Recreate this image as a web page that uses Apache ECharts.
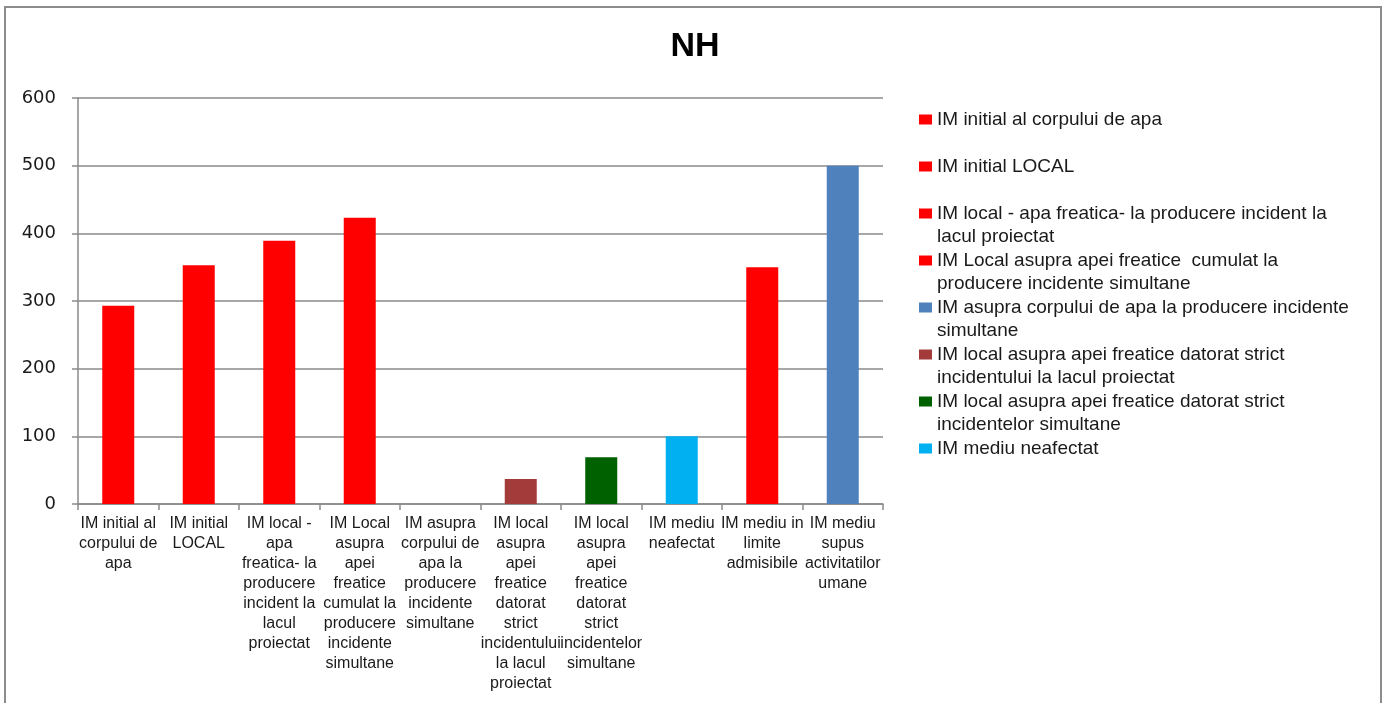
<!DOCTYPE html>
<html>
<head>
<meta charset="utf-8">
<script src="https://cdn.jsdelivr.net/npm/echarts@6/dist/echarts.min.js"></script>
<style>
html,body{margin:0;padding:0;background:#fff;}
#chart{width:1390px;height:703px;}
</style>
</head>
<body>
<div id="chart"></div>
<script>
const chartTitle = 'NH';
const categories = [
  'IM initial al corpului de apa',
  'IM initial LOCAL',
  'IM local - apa freatica- la producere incident la lacul proiectat',
  'IM Local asupra apei freatice  cumulat la producere incidente simultane',
  'IM asupra corpului de apa la producere incidente simultane',
  'IM local asupra apei freatice datorat strict incidentului la lacul proiectat',
  'IM local asupra apei freatice datorat strict incidentelor simultane',
  'IM mediu neafectat',
  'IM mediu in limite admisibile',
  'IM mediu supus activitatilor umane'
];
const xTickLabels = [
  'IM initial al\ncorpului de\napa',
  'IM initial\nLOCAL',
  'IM local -\napa\nfreatica- la\nproducere\nincident la\nlacul\nproiectat',
  'IM Local\nasupra\napei\nfreatice\ncumulat la\nproducere\nincidente\nsimultane',
  'IM asupra\ncorpului de\napa la\nproducere\nincidente\nsimultane',
  'IM local\nasupra\napei\nfreatice\ndatorat\nstrict\nincidentului\nla lacul\nproiectat',
  'IM local\nasupra\napei\nfreatice\ndatorat\nstrict\nincidentelor\nsimultane',
  'IM mediu\nneafectat',
  'IM mediu in\nlimite\nadmisibile',
  'IM mediu\nsupus\nactivitatilor\numane'
];
const values = [293, 353, 389, 423, 0, 37, 69, 100, 350, 500];
const barColors = ['#FF0000','#FF0000','#FF0000','#FF0000','#4F81BD','#A33B3A','#006100','#00B0F0','#FF0000','#4F81BD'];
const legendCount = 8;
const legendLines = [
  ['IM initial al corpului de apa'],
  ['IM initial LOCAL'],
  ['IM local - apa freatica- la producere incident la', 'lacul proiectat'],
  ['IM Local asupra apei freatice  cumulat la', 'producere incidente simultane'],
  ['IM asupra corpului de apa la producere incidente', 'simultane'],
  ['IM local asupra apei freatice datorat strict', 'incidentului la lacul proiectat'],
  ['IM local asupra apei freatice datorat strict', 'incidentelor simultane'],
  ['IM mediu neafectat']
];
const yMin = 0, yMax = 600, yInterval = 100;

const chart = echarts.init(document.getElementById('chart'));

const rich = {
  t: {fontSize: 19, lineHeight: 23.5, color: '#1a1a1a', fontFamily: 'Liberation Sans, Arial, sans-serif'},
  g: {width: 5, height: 10, lineHeight: 23.5},
  ind: {width: 18, height: 10, lineHeight: 23.5}
};
for (let i = 0; i < legendCount; i++) {
  rich['c' + i] = {width: 13, height: 10, backgroundColor: barColors[i], lineHeight: 23.5};
}

const series = categories.map((name, i) => ({
  type: 'bar',
  name: name,
  stack: 'all',
  barWidth: 32,
  data: values.map((v, j) => (j === i ? v : null)),
  itemStyle: {color: barColors[i]},
  emphasis: {disabled: true}
}));

const option = {
  backgroundColor: '#ffffff',
  animation: false,
  title: {
    text: chartTitle,
    left: 'center',
    top: 30,
    padding: 0,
    textStyle: {fontSize: 34, fontWeight: 'bold', color: '#000', fontFamily: 'Liberation Sans, Arial, sans-serif'}
  },
  graphic: [{
    type: 'rect',
    z: -10,
    shape: {x: 5, y: 7, width: 1376, height: 697},
    style: {fill: 'none', stroke: '#8c8c8c', lineWidth: 2}
  }],
  legend: {
    orient: 'vertical',
    left: 914,
    top: 110,
    padding: 0,
    itemGap: 4.5,
    itemWidth: 0,
    itemHeight: 0,
    icon: 'none',
    selectedMode: false,
    data: categories.slice(0, legendCount),
    formatter: function (name) {
      const i = categories.indexOf(name);
      const lines = legendLines[i];
      let s = '{c' + i + '|}{g|}{t|' + lines[0] + '}';
      if (lines.length > 1) {
        s += '\n{ind|}{t|' + lines[1] + '}';
      } else {
        s += '\n{t| }';
      }
      return s;
    },
    textStyle: {rich: rich}
  },
  grid: {left: 78, right: 507, top: 98, bottom: 199, containLabel: false},
  xAxis: {
    type: 'category',
    data: xTickLabels,
    axisLine: {lineStyle: {color: '#8a8a8a', width: 1.5}},
    axisTick: {show: true, length: 6, lineStyle: {color: '#8a8a8a', width: 1.5}},
    axisLabel: {interval: 0, fontSize: 16, lineHeight: 20, margin: 10, color: '#1a1a1a', fontFamily: 'Liberation Sans, Arial, sans-serif'}
  },
  yAxis: {
    type: 'value',
    min: yMin,
    max: yMax,
    interval: yInterval,
    axisLine: {show: true, lineStyle: {color: '#8a8a8a', width: 1.5}},
    axisTick: {show: true, length: 6, lineStyle: {color: '#8a8a8a', width: 1.5}},
    splitLine: {lineStyle: {color: '#8a8a8a', width: 1.5}},
    axisLabel: {fontSize: 18, margin: 22, color: '#1a1a1a', fontFamily: 'DejaVu Sans, Verdana, sans-serif'}
  },
  series: series
};
chart.setOption(option);
</script>
</body>
</html>
